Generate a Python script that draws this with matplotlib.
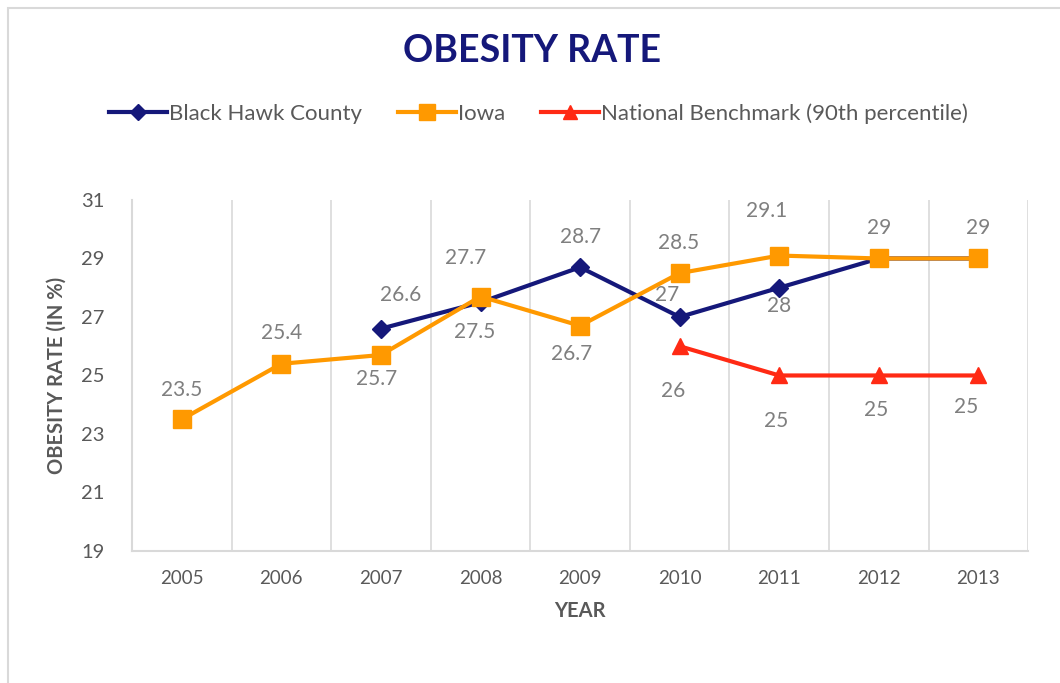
import matplotlib
matplotlib.use("Agg")
import matplotlib.pyplot as plt
from matplotlib.patches import Rectangle

years = ["2005", "2006", "2007", "2008", "2009", "2010", "2011", "2012", "2013"]
black_hawk = [None, None, 26.6, 27.5, 28.7, 27, 28, 29, 29]
iowa = [23.5, 25.4, 25.7, 27.7, 26.7, 28.5, 29.1, 29, 29]
national = [None, None, None, None, None, 26, 25, 25, 25]

# label offsets (points), None = no label shown
bh_off = [None, None, (14, 24), (-4, -21), (0, 22), (-9, 16), (0, -13), None, None]
ia_off = [(0, 21), (0, 22), (-3, -17), (-11, 28), (-6, -20), (-1, 22), (-9, 32), (0, 22), (0, 22)]
nat_off = [None, None, None, None, None, (-5, -32), (-2, -33), (-2, -25), (-9, -23)]

navy = "#15187a"
orange = "#ff9900"
red = "#ff2a14"
grey = "#595959"
lblgrey = "#7f7f7f"

plt.rcParams["font.family"] = ["Lato", "DejaVu Sans"]

fig = plt.figure(figsize=(10.6, 6.83), dpi=100)
fig.patches.append(Rectangle((8 / 1060, -0.1), 1.2, 1.1 - 8 / 683, transform=fig.transFigure,
                             fill=False, edgecolor="#d9d9d9", linewidth=1.5))
ax = fig.add_axes([0.1245, 0.1933, 0.8455, 0.5139])

x = list(range(len(years)))


def series(vals):
    xs = [i for i, v in zip(x, vals) if v is not None]
    ys = [v for v in vals if v is not None]
    return xs, ys


bx, by = series(black_hawk)
ix, iy = series(iowa)
nx, ny = series(national)

ax.plot(bx, by, color=navy, lw=3, marker="D", ms=9, label="Black Hawk County", zorder=3)
ax.plot(ix, iy, color=orange, lw=3, marker="s", ms=13, label="Iowa", zorder=4)
ax.plot(nx, ny, color=red, lw=3, marker="^", ms=12, label="National Benchmark (90th percentile)", zorder=5)

for vals, offs in [(black_hawk, bh_off), (iowa, ia_off), (national, nat_off)]:
    for i, (v, o) in enumerate(zip(vals, offs)):
        if v is None or o is None:
            continue
        ax.annotate(f"{v:g}", (i, v), xytext=o, textcoords="offset points",
                    ha="center", va="center", fontsize=15, color=lblgrey)

ax.set_xlim(-0.5, 8.5)
ax.set_ylim(19, 31)
ax.set_yticks(range(19, 32, 2))
ax.set_xticks(x)
ax.set_xticklabels(years)
ax.set_xticks([i + 0.5 for i in x], minor=True)
ax.grid(True, which="minor", axis="x", color="#d9d9d9", lw=1.2)
ax.tick_params(which="both", length=0)
ax.tick_params(axis="x", pad=14, labelsize=13.5, colors=grey)
ax.tick_params(axis="y", pad=20, labelsize=14.5, colors=grey)
for s in ["top", "right"]:
    ax.spines[s].set_visible(False)
for s in ["left", "bottom"]:
    ax.spines[s].set_color("#d9d9d9")
    ax.spines[s].set_linewidth(1.5)

ax.set_ylabel("OBESITY RATE (IN %)", fontsize=14.5, fontweight="bold", color=grey, labelpad=10)
ax.set_xlabel("YEAR", fontsize=14.5, fontweight="bold", color=grey, labelpad=10)

fig.text(0.502, 0.926, "OBESITY RATE", ha="center", va="center", fontsize=27,
         fontweight="bold", color=navy)
ax.legend(loc="center", bbox_to_anchor=(0.508, 0.834), bbox_transform=fig.transFigure,
          ncol=3, frameon=False, fontsize=16, labelcolor=grey, handlelength=2.6,
          handletextpad=0.1, columnspacing=1.6, markerscale=0.85)

fig.savefig("out.png", dpi=100)
